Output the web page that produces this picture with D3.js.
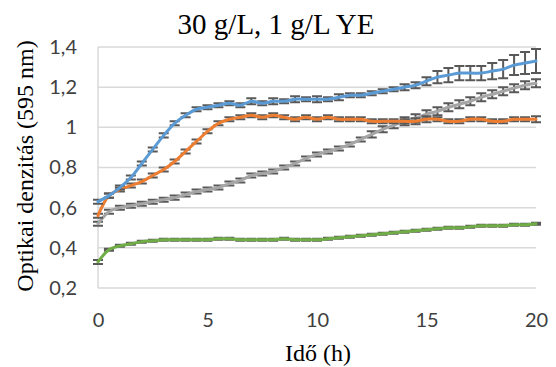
<!DOCTYPE html>
<html>
<head>
<meta charset="utf-8">
<script src="https://cdn.jsdelivr.net/npm/d3@7"></script>
<style>
	body { margin: 0; background: #ffffff; }
</style>
</head>
<body>
<div id="chart"></div>
<script>
/////////////////
// "CONSTANTS" //
/////////////////
var WIDTH = 556;
var HEIGHT = 367;
var PLOT_LEFT = 98;
var PLOT_RIGHT = 536;
var PLOT_TOP = 47;
var PLOT_BOTTOM = 288;
var GRID_COLOR = "#d9d9d9";
var ERROR_COLOR = "#595959";
var CAP_HALF = 5;
var SERIF = "'Liberation Serif', 'Times New Roman', serif";
var SANS = "Lato, 'Open Sans', sans-serif";

//////////
// DATA //
//////////
var TITLE = "30 g/L, 1 g/L YE";
var X_TITLE = "Idő (h)";
var Y_TITLE = "Optikai denzitás (595 nm)";

var xTicks = [0, 5, 10, 15, 20];
var yTicks = [0.2, 0.4, 0.6, 0.8, 1, 1.2, 1.4];
var yTickLabels = ["0,2", "0,4", "0,6", "0,8", "1", "1,2", "1,4"];

// measurement times (h)
var times = [0, 0.5, 1, 1.5, 2, 2.5, 3, 3.5, 4, 4.5, 5, 5.5, 6, 6.5, 7, 7.5, 8, 8.5, 9, 9.5,
	10, 10.5, 11, 11.5, 12, 12.5, 13, 13.5, 14, 14.5, 15, 15.5, 16, 16.5, 17, 17.5, 18, 18.5, 19, 19.5, 20];

var blueValues = [0.63, 0.66, 0.70, 0.75, 0.82, 0.89, 0.96, 1.02, 1.06, 1.09, 1.10, 1.11, 1.12, 1.11, 1.13, 1.12, 1.13, 1.13, 1.14, 1.14,
	1.14, 1.14, 1.15, 1.16, 1.16, 1.17, 1.18, 1.19, 1.20, 1.21, 1.23, 1.25, 1.26, 1.27, 1.27, 1.27, 1.28, 1.29, 1.31, 1.32, 1.33];
var blueErrors = [0.01, 0.01, 0.01, 0.01, 0.01, 0.01, 0.01, 0.01, 0.01, 0.01, 0.01, 0.01, 0.01, 0.01, 0.015, 0.01, 0.015, 0.01, 0.015, 0.01,
	0.015, 0.01, 0.015, 0.01, 0.01, 0.01, 0.01, 0.01, 0.015, 0.015, 0.02, 0.03, 0.035, 0.035, 0.035, 0.035, 0.04, 0.045, 0.05, 0.055, 0.06];

var orangeValues = [0.56, 0.66, 0.69, 0.71, 0.73, 0.76, 0.79, 0.83, 0.88, 0.93, 0.98, 1.02, 1.04, 1.05, 1.06, 1.05, 1.06, 1.05, 1.04, 1.05,
	1.04, 1.05, 1.04, 1.04, 1.04, 1.03, 1.03, 1.03, 1.03, 1.03, 1.04, 1.04, 1.03, 1.03, 1.04, 1.04, 1.03, 1.03, 1.04, 1.04, 1.04];
var orangeErrors = [0.01, 0.01, 0.01, 0.01, 0.01, 0.01, 0.01, 0.01, 0.01, 0.01, 0.01, 0.01, 0.01, 0.01, 0.01, 0.01, 0.01, 0.01, 0.01, 0.01,
	0.01, 0.01, 0.01, 0.01, 0.01, 0.01, 0.01, 0.01, 0.01, 0.015, 0.015, 0.01, 0.01, 0.01, 0.01, 0.01, 0.01, 0.01, 0.01, 0.01, 0.015];

var grayValues = [0.52, 0.58, 0.60, 0.61, 0.62, 0.63, 0.64, 0.65, 0.665, 0.68, 0.69, 0.70, 0.72, 0.735, 0.76, 0.77, 0.78, 0.80, 0.82, 0.845,
	0.865, 0.88, 0.895, 0.915, 0.94, 0.965, 0.99, 1.01, 1.03, 1.045, 1.065, 1.08, 1.10, 1.115, 1.13, 1.15, 1.165, 1.18, 1.195, 1.21, 1.22];
var grayErrors = [0.01, 0.01, 0.01, 0.01, 0.01, 0.01, 0.01, 0.01, 0.01, 0.01, 0.01, 0.01, 0.01, 0.01, 0.01, 0.01, 0.01, 0.01, 0.01, 0.01,
	0.01, 0.01, 0.01, 0.01, 0.01, 0.015, 0.015, 0.015, 0.02, 0.02, 0.02, 0.02, 0.02, 0.02, 0.02, 0.02, 0.02, 0.02, 0.02, 0.02, 0.02];

var greenValues = [0.33, 0.39, 0.41, 0.42, 0.43, 0.435, 0.44, 0.44, 0.44, 0.44, 0.44, 0.445, 0.445, 0.44, 0.44, 0.44, 0.44, 0.445, 0.44, 0.44,
	0.44, 0.445, 0.45, 0.455, 0.46, 0.465, 0.47, 0.475, 0.48, 0.485, 0.49, 0.495, 0.50, 0.50, 0.505, 0.51, 0.51, 0.51, 0.515, 0.515, 0.52];
var greenErrors = [0.01, 0.005, 0.005, 0.005, 0.005, 0.005, 0.005, 0.005, 0.005, 0.005, 0.005, 0.005, 0.005, 0.005, 0.005, 0.005, 0.005, 0.005, 0.005, 0.005,
	0.005, 0.005, 0.005, 0.005, 0.005, 0.005, 0.005, 0.005, 0.005, 0.005, 0.005, 0.005, 0.005, 0.005, 0.005, 0.005, 0.005, 0.005, 0.005, 0.005, 0.005];

var series = [
	{ name: "green", color: "#70ad47", values: greenValues, errors: greenErrors },
	{ name: "gray", color: "#a5a5a5", values: grayValues, errors: grayErrors },
	{ name: "orange", color: "#ed7d31", values: orangeValues, errors: orangeErrors },
	{ name: "blue", color: "#5b9bd5", values: blueValues, errors: blueErrors }
];

////////////
// SCALES //
////////////
var x = d3.scaleLinear().domain([0, 20]).range([PLOT_LEFT, PLOT_RIGHT]);
var y = d3.scaleLinear().domain([0.2, 1.4]).range([PLOT_BOTTOM, PLOT_TOP]);

var svg = d3.select("#chart")
	.append("svg")
	.attr("width", WIDTH)
	.attr("height", HEIGHT);

// gridlines
svg.append("g")
	.selectAll("line")
	.data(yTicks)
	.join("line")
	.attr("x1", PLOT_LEFT)
	.attr("x2", PLOT_RIGHT)
	.attr("y1", function(d) { return y(d); })
	.attr("y2", function(d) { return y(d); })
	.attr("stroke", GRID_COLOR)
	.attr("stroke-width", 1.5);

// vertical axis line
svg.append("line")
	.attr("x1", PLOT_LEFT)
	.attr("x2", PLOT_LEFT)
	.attr("y1", PLOT_TOP)
	.attr("y2", PLOT_BOTTOM)
	.attr("stroke", GRID_COLOR)
	.attr("stroke-width", 1.5);

// axes (labels only)
var yAxis = d3.axisLeft(y)
	.tickValues(yTicks)
	.tickSize(0)
	.tickPadding(21)
	.tickFormat(function(d, i) { return yTickLabels[i]; });
var gy = svg.append("g")
	.attr("transform", "translate(" + PLOT_LEFT + ",0)")
	.call(yAxis);

var xAxis = d3.axisBottom(x)
	.tickValues(xTicks)
	.tickSize(0)
	.tickPadding(25)
	.tickFormat(d3.format("d"));
var gx = svg.append("g")
	.attr("transform", "translate(0," + PLOT_BOTTOM + ")")
	.call(xAxis);

[gx, gy].forEach(function(g) {
	g.select(".domain").remove();
	g.selectAll("text")
		.attr("fill", "#404040")
		.style("font-family", SANS)
		.style("font-size", "20px");
});

// error bars + lines
var line = d3.line()
	.x(function(d) { return x(d.t); })
	.y(function(d) { return y(d.v); })
	.curve(d3.curveCatmullRom.alpha(0.5));

series.forEach(function(s) {
	var pts = times.map(function(t, i) { return { t: t, v: s.values[i], e: s.errors[i] }; });
	var eg = svg.append("g")
		.attr("stroke", ERROR_COLOR)
		.attr("stroke-width", 2);
	eg.selectAll("path")
		.data(pts)
		.join("path")
		.attr("fill", "none")
		.attr("d", function(d) {
			var cx = x(d.t), top = y(d.v + d.e), bot = y(d.v - d.e);
			return "M" + (cx - CAP_HALF) + "," + top + "H" + (cx + CAP_HALF) +
				"M" + cx + "," + top + "V" + bot +
				"M" + (cx - CAP_HALF) + "," + bot + "H" + (cx + CAP_HALF);
		});
	svg.append("path")
		.datum(pts)
		.attr("fill", "none")
		.attr("stroke", s.color)
		.attr("stroke-width", 3)
		.attr("stroke-linecap", "round")
		.attr("d", line);
});

// titles
svg.append("text")
	.attr("x", 276)
	.attr("y", 34)
	.attr("text-anchor", "middle")
	.style("font-family", SERIF)
	.style("font-size", "29px")
	.attr("fill", "#000")
	.text(TITLE);

svg.append("text")
	.attr("x", 318)
	.attr("y", 361)
	.attr("text-anchor", "middle")
	.style("font-family", SERIF)
	.style("font-size", "24px")
	.attr("fill", "#000")
	.text(X_TITLE);

svg.append("text")
	.attr("transform", "translate(33,166) rotate(-90)")
	.attr("text-anchor", "middle")
	.style("font-family", SERIF)
	.style("font-size", "24px")
	.attr("fill", "#000")
	.text(Y_TITLE);
</script>
</body>
</html>
